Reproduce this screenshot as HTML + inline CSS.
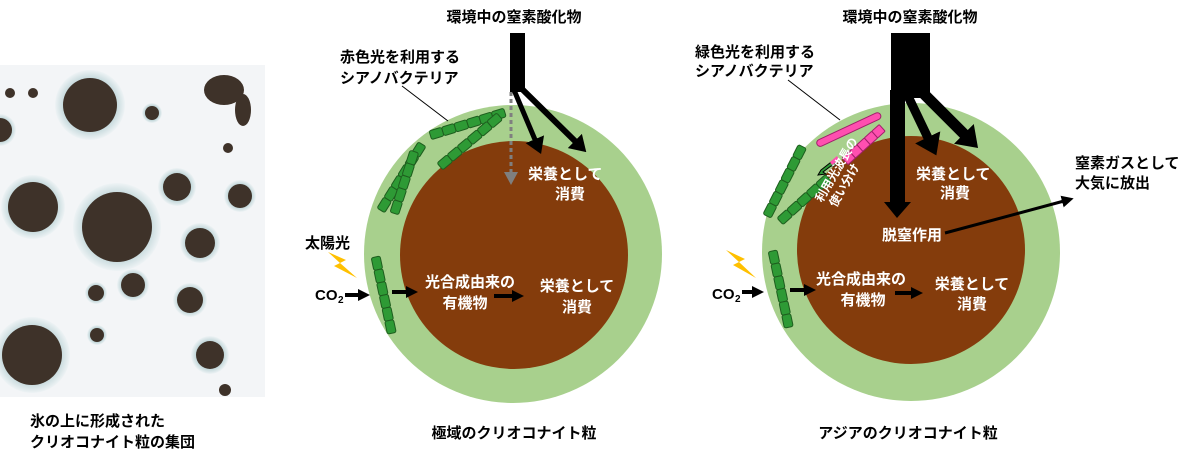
<!DOCTYPE html>
<html><head><meta charset="utf-8"><style>
html,body{margin:0;padding:0;background:#fff;width:1200px;height:463px;overflow:hidden}
svg{display:block}
text{font-family:"Liberation Sans","Noto Sans CJK JP",sans-serif;font-weight:bold}
</style></head><body>
<svg width="1200" height="463" viewBox="0 0 1200 463" xmlns="http://www.w3.org/2000/svg">
<defs>
<marker id="a12" markerWidth="12" markerHeight="12" refX="2" refY="6" orient="auto" markerUnits="userSpaceOnUse"><path d="M0,0 L12,6 L0,12 z" fill="#000"/></marker>
<marker id="a18" markerWidth="16" markerHeight="20" refX="3" refY="10" orient="auto" markerUnits="userSpaceOnUse"><path d="M0,0 L16,10 L0,20 z" fill="#000"/></marker>
<marker id="a26" markerWidth="20" markerHeight="28" refX="3" refY="14" orient="auto" markerUnits="userSpaceOnUse"><path d="M0,0 L20,14 L0,28 z" fill="#000"/></marker>
<radialGradient id="rim"><stop offset="0.7" stop-color="#bcd3d6"/><stop offset="1" stop-color="#eef3f5"/></radialGradient>
<g id="cell"><rect x="0" y="0" width="13" height="9" rx="2" fill="#2e9a35" stroke="#1e5e1e" stroke-width="1"/></g>
<g id="pcell"><rect x="0" y="0" width="10" height="9" rx="1" fill="#ff4fb0" stroke="#a0206a" stroke-width="1"/></g>
</defs>
<!-- photo -->
<rect x="0" y="65" width="265" height="332" fill="#f3f5f7"/>
<g fill="url(#rim)">
<circle cx="90" cy="105" r="35"/><circle cx="33" cy="207" r="32"/><circle cx="117" cy="227" r="44"/>
<circle cx="177" cy="187" r="19"/><circle cx="240" cy="196" r="16"/><circle cx="200" cy="243" r="20"/>
<circle cx="133" cy="285" r="16"/><circle cx="96" cy="293" r="11"/><circle cx="190" cy="300" r="17"/>
<circle cx="32" cy="355" r="38"/><circle cx="97" cy="335" r="10"/><circle cx="210" cy="355" r="19"/>
<circle cx="152" cy="113" r="10"/><circle cx="0" cy="130" r="16"/>
</g>
<g fill="#3e3229">
<circle cx="90" cy="105" r="27"/><circle cx="33" cy="207" r="25"/><circle cx="117" cy="227" r="35"/>
<circle cx="177" cy="187" r="14"/><circle cx="240" cy="196" r="12"/><circle cx="200" cy="243" r="15"/>
<circle cx="133" cy="285" r="12"/><circle cx="96" cy="293" r="8"/><circle cx="190" cy="300" r="13"/>
<circle cx="32" cy="355" r="30"/><circle cx="97" cy="335" r="7"/><circle cx="210" cy="355" r="14"/>
<circle cx="152" cy="113" r="7"/><circle cx="0" cy="130" r="12"/>
<ellipse cx="224" cy="90" rx="20" ry="15"/><ellipse cx="243" cy="110" rx="8" ry="16"/>
<circle cx="10" cy="93" r="5"/><circle cx="33" cy="93" r="5"/><circle cx="228" cy="148" r="5"/><circle cx="225" cy="390" r="6"/>
</g>
<text x="30" y="426" font-size="15">氷の上に形成された</text>
<text x="30" y="447" font-size="15">クリオコナイト粒の集団</text>

<!-- left diagram -->
<circle cx="513" cy="254" r="149" fill="#a8d08d"/>
<circle cx="514" cy="255" r="114" fill="#843c0c"/>
<text x="514" y="22" font-size="15" text-anchor="middle">環境中の窒素酸化物</text>
<text x="340" y="62" font-size="15">赤色光を利用する</text>
<text x="340" y="83" font-size="15">シアノバクテリア</text>
<line x1="402" y1="86" x2="448" y2="121" stroke="#000" stroke-width="1"/>
<rect x="510" y="33" width="15" height="59" fill="#000"/>
<line x1="511" y1="92" x2="511" y2="172" stroke="#7f7f7f" stroke-width="3" stroke-dasharray="4,3"/>
<path d="M504,172 L518,172 L511,185 z" fill="#7f7f7f"/>
<line x1="514" y1="90" x2="536" y2="142" stroke="#000" stroke-width="5" marker-end="url(#a18)"/>
<line x1="521" y1="88" x2="577" y2="143" stroke="#000" stroke-width="6" marker-end="url(#a18)"/>
<g fill="#fff"><text x="528" y="179" font-size="15">栄養として</text><text x="555" y="199" font-size="15">消費</text>
<text x="470" y="287" font-size="15" text-anchor="middle">光合成由来の</text><text x="465" y="308" font-size="15" text-anchor="middle">有機物</text>
<text x="577" y="291" font-size="15" text-anchor="middle">栄養として</text><text x="577" y="312" font-size="15" text-anchor="middle">消費</text></g>
<g transform="translate(429,131) rotate(-17)"><use href="#cell" x="0"/><use href="#cell" x="13"/><use href="#cell" x="26"/><use href="#cell" x="39"/><use href="#cell" x="52"/><use href="#cell" x="65"/></g>
<g transform="translate(437,163) rotate(-40)"><use href="#cell" x="0"/><use href="#cell" x="13"/><use href="#cell" x="26"/><use href="#cell" x="39"/><use href="#cell" x="52"/><use href="#cell" x="65"/></g>
<g transform="translate(377,208) rotate(-58)"><use href="#cell" x="0"/><use href="#cell" x="13"/><use href="#cell" x="26"/><use href="#cell" x="39"/><use href="#cell" x="52"/><use href="#cell" x="65"/></g>
<g transform="translate(390,212) rotate(-72)"><use href="#cell" x="0"/><use href="#cell" x="13"/><use href="#cell" x="26"/><use href="#cell" x="39"/><use href="#cell" x="52"/></g>
<g transform="translate(380,256) rotate(78)"><use href="#cell" x="0"/><use href="#cell" x="13"/><use href="#cell" x="26"/><use href="#cell" x="39"/><use href="#cell" x="52"/><use href="#cell" x="65"/></g>
<text x="305" y="248" font-size="15">太陽光</text>
<path d="M328,252 L346,260 L340,263 L357,278 L334,266 L340,263 Z" fill="#ffc000"/>
<text x="315" y="300" font-size="15">CO</text><text x="338" y="303" font-size="10">2</text>
<line x1="345" y1="295" x2="360" y2="295" stroke="#000" stroke-width="4" marker-end="url(#a12)"/>
<line x1="392" y1="292" x2="408" y2="292" stroke="#000" stroke-width="4" marker-end="url(#a12)"/>
<line x1="494" y1="296" x2="514" y2="296" stroke="#000" stroke-width="4" marker-end="url(#a12)"/>
<text x="514" y="438" font-size="15" text-anchor="middle">極域のクリオコナイト粒</text>

<!-- right diagram -->
<circle cx="911" cy="252" r="149" fill="#a8d08d"/>
<circle cx="911" cy="250" r="114" fill="#843c0c"/>
<text x="910" y="22" font-size="15" text-anchor="middle">環境中の窒素酸化物</text>
<text x="695" y="57" font-size="15">緑色光を利用する</text>
<text x="695" y="76" font-size="15">シアノバクテリア</text>
<line x1="788" y1="80" x2="840" y2="120" stroke="#000" stroke-width="1"/>
<rect x="891" y="33" width="39" height="65" fill="#000"/>
<rect x="890" y="90" width="15" height="112" fill="#000"/>
<path d="M884,202 L911,202 L897,218 z" fill="#000"/>
<line x1="906" y1="92" x2="929" y2="140" stroke="#000" stroke-width="9" marker-end="url(#a26)"/>
<line x1="918" y1="88" x2="966" y2="136" stroke="#000" stroke-width="11" marker-end="url(#a26)"/>
<g fill="#fff"><text x="916" y="179" font-size="15">栄養として</text><text x="940" y="198" font-size="15">消費</text>
<text x="882" y="240" font-size="15">脱窒作用</text>
<text x="861" y="284" font-size="15" text-anchor="middle">光合成由来の</text><text x="863" y="305" font-size="15" text-anchor="middle">有機物</text>
<text x="972" y="289" font-size="15" text-anchor="middle">栄養として</text><text x="972" y="309" font-size="15" text-anchor="middle">消費</text></g>
<line x1="945" y1="233" x2="1064" y2="201" stroke="#000" stroke-width="3" marker-end="url(#a12)"/>
<text x="1075" y="168" font-size="15">窒素ガスとして</text>
<text x="1075" y="188" font-size="15">大気に放出</text>
<rect x="814" y="126" width="70" height="7" rx="3.5" fill="#ff4fb0" stroke="#a0206a" stroke-width="1" transform="rotate(-25 849 130)"/>
<g transform="translate(842,158) rotate(-42)"><use href="#pcell" x="0"/><use href="#pcell" x="10"/><use href="#pcell" x="20"/><use href="#pcell" x="30"/><use href="#pcell" x="40"/></g>
<g transform="translate(763,214) rotate(-63)"><use href="#cell" x="0"/><use href="#cell" x="13"/><use href="#cell" x="26"/><use href="#cell" x="39"/><use href="#cell" x="52"/><use href="#cell" x="65"/></g>
<g transform="translate(777,218) rotate(-42)"><use href="#cell" x="0"/><use href="#cell" x="13"/><use href="#cell" x="26"/><use href="#cell" x="39"/><use href="#cell" x="52"/></g>
<g transform="translate(777,250) rotate(78)"><use href="#cell" x="0"/><use href="#cell" x="13"/><use href="#cell" x="26"/><use href="#cell" x="39"/><use href="#cell" x="52"/><use href="#cell" x="65"/></g>
<path d="M821,170 L835,159 L837,163 L834,166 L831,166 L823,172 L826,174 L818,175 Z" fill="#2e9a35" stroke="#000" stroke-width="1"/>
<path d="M837,156 L830,162 L832,165 L839,160 Z" fill="#ff4fb0"/>
<g fill="#fff" font-size="12"><text transform="translate(822,203) rotate(-60)">利用光波長の</text><text transform="translate(836,208) rotate(-60)">使い分け</text></g>
<path d="M726,250 L745,259 L739,262 L756,278 L733,265 L739,262 Z" fill="#ffc000"/>
<text x="712" y="299" font-size="15">CO</text><text x="735" y="302" font-size="10">2</text>
<line x1="742" y1="292" x2="754" y2="292" stroke="#000" stroke-width="4" marker-end="url(#a12)"/>
<line x1="790" y1="290" x2="806" y2="290" stroke="#000" stroke-width="4" marker-end="url(#a12)"/>
<line x1="895" y1="293" x2="913" y2="293" stroke="#000" stroke-width="4" marker-end="url(#a12)"/>
<text x="908" y="438" font-size="15" text-anchor="middle">アジアのクリオコナイト粒</text>
</svg>
</body></html>
